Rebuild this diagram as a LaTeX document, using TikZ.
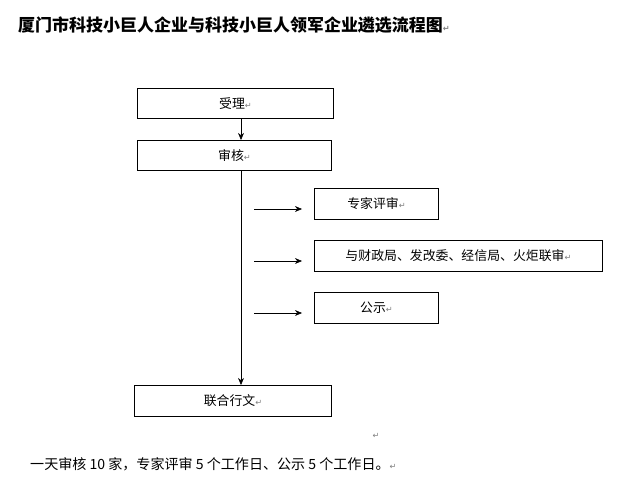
\documentclass[tikz,border=0pt]{standalone}
\usepackage{fontspec}
\setmainfont{Noto Sans CJK SC}
\newfontfamily\dv{DejaVu Sans}
\usetikzlibrary{arrows.meta}
\newcommand{\parmk}{{\dv\color{gray}\scriptsize ↵}}
\begin{document}
\begin{tikzpicture}[x=0.03cm,y=-0.03cm,
  box/.style={draw,thick,font=\fontsize{11}{13}\selectfont,anchor=north west,inner sep=0pt},
  arr/.style={-{Stealth[length=6pt,width=5pt]},thin}]
\useasboundingbox (0,0) rectangle (643,493);
\node[anchor=west,inner sep=0pt,font=\fontsize{14.5}{16}\selectfont\bfseries] (t) at (18,25) {厦门市科技小巨人企业与科技小巨人领军企业遴选流程图\parmk};
\node[box,minimum width=196*0.03cm,minimum height=30*0.03cm] (a) at (137,88) {受理\parmk};
\node[box,minimum width=194*0.03cm,minimum height=30*0.03cm] (b) at (137,140) {审核\parmk};
\node[box,minimum width=124*0.03cm,minimum height=31*0.03cm] (c) at (314,188) {专家评审\parmk};
\node[box,minimum width=288*0.03cm,minimum height=31*0.03cm] (d) at (314,240) {与财政局、发改委、经信局、火炬联审\parmk};
\node[box,minimum width=124*0.03cm,minimum height=31*0.03cm] (e) at (314,292) {公示\parmk};
\node[box,minimum width=197*0.03cm,minimum height=31*0.03cm] (f) at (134,385) {联合行文\parmk};
\draw[arr] (a.south -| 241,0) -- (b.north -| 241,0);
\draw[arr] (b.south -| 241,0) -- (f.north -| 241,0);
\coordinate (c0) at (254,209); \coordinate (d0) at (254,261); \coordinate (e0) at (254,313);
\draw[arr] (c0) -- (302,209);
\draw[arr] (d0) -- (302,261);
\draw[arr] (e0) -- (302,313);
\node (m) at (376,436) {\parmk};
\node[anchor=west,inner sep=0pt,font=\fontsize{12}{14}\selectfont] (n) at (30,464) {一天审核 10 家，专家评审 5 个工作日、公示 5 个工作日。\parmk};
\end{tikzpicture}
\end{document}
